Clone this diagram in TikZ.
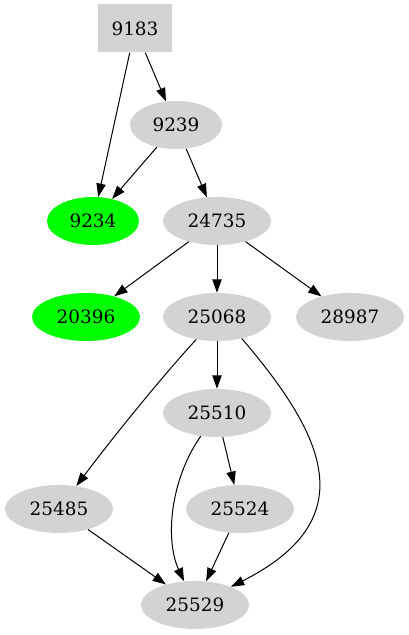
\documentclass[tikz,border=0pt]{standalone}
\usepackage{fontspec}
\setmainfont{DejaVu Serif}
\usetikzlibrary{shapes.geometric, arrows.meta}
\definecolor{NodeGray}{RGB}{211, 211, 211}
\definecolor{HitGreen}{RGB}{0, 255, 0}

\tikzset{
  vbox/.style={rectangle, fill=NodeGray, minimum width=55.5pt, minimum height=36pt, inner sep=0pt},
  vnode/.style={ellipse, fill=NodeGray, minimum width=81pt, minimum height=36pt, inner sep=0pt},
  vshort/.style={vnode, minimum width=69pt},
  vhit/.style={fill=HitGreen},
  edge/.style={-{Triangle[length=10pt, width=7pt]}, line width=0.75pt, black}
}

\begin{document}
\begin{tikzpicture}[x=0.75pt, y=-0.75pt, font=\fontsize{13.8}{16}\selectfont]
  \useasboundingbox (0,0) rectangle (409,635);

  % vertices
  \node[vbox] (n9183) at (135, 28.5) {9183};
  \node[vshort] (n9239) at (176, 125) {9239};
  \node[vshort, vhit] (n9234) at (93, 221) {9234};
  \node[vnode] (n24735) at (217, 221) {24735};
  \node[vnode, vhit] (n20396) at (86, 317) {20396};
  \node[vnode] (n25068) at (217, 317) {25068};
  \node[vnode] (n28987) at (350, 317) {28987};
  \node[vnode] (n25510) at (217, 413) {25510};
  \node[vnode] (n25485) at (59, 509) {25485};
  \node[vnode] (n25524) at (240, 509) {25524};
  \node[vnode] (n25529) at (195, 605) {25529};

  % edges
  \draw[edge] (n9183) -- (n9234);
  \draw[edge] (n9183) -- (n9239);
  \draw[edge] (n9239) -- (n9234);
  \draw[edge] (n9239) -- (n24735);
  \draw[edge] (n24735) -- (n20396);
  \draw[edge] (n24735) -- (n25068);
  \draw[edge] (n24735) -- (n28987);
  \draw[edge] (n25068) .. controls (168, 370) and (120, 428) .. (n25485);
  \draw[edge] (n25068) -- (n25510);
  \draw[edge] (n25068.-41) .. controls (327, 438) and (363, 520) .. (n25529);
  \draw[edge] (n25510) -- (n25524);
  \draw[edge] (n25510) .. controls (170, 480) and (165, 540) .. (n25529);
  \draw[edge] (n25485) -- (n25529);
  \draw[edge] (n25524) -- (n25529);
\end{tikzpicture}
\end{document}
